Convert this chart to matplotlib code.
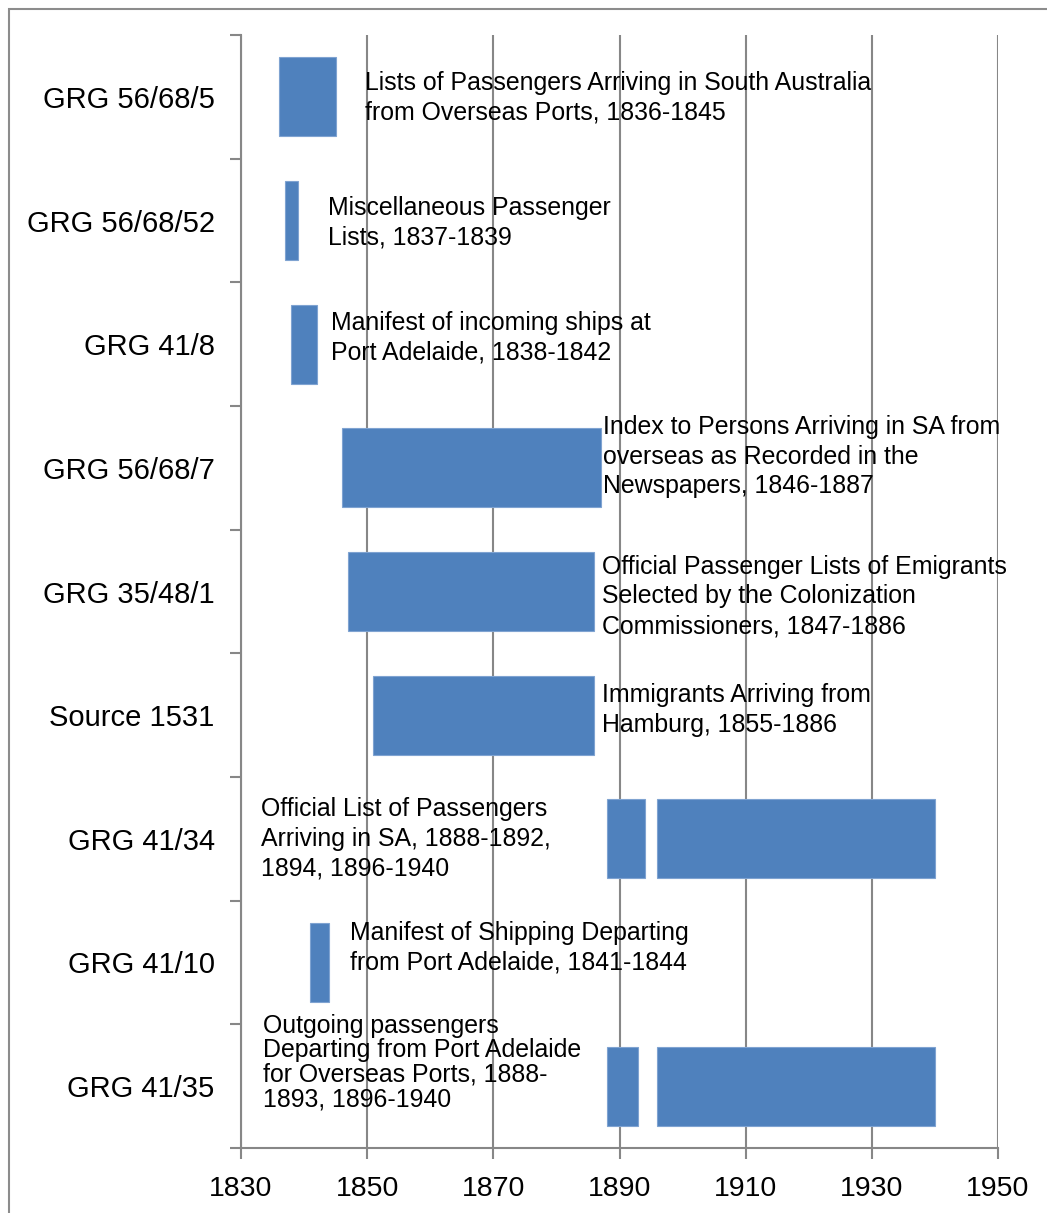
import matplotlib
matplotlib.use("Agg")
import matplotlib.pyplot as plt
from matplotlib.patches import Rectangle

# record series, top to bottom
series = ["GRG 56/68/5", "GRG 56/68/52", "GRG 41/8", "GRG 56/68/7", "GRG 35/48/1",
          "Source 1531", "GRG 41/34", "GRG 41/10", "GRG 41/35"]

# year ranges covered (start, end) per series
spans = [
    [(1836, 1845)],
    [(1837, 1839)],
    [(1838, 1842)],
    [(1846, 1887)],
    [(1847, 1886)],
    [(1851, 1886)],
    [(1888, 1894), (1896, 1940)],
    [(1841, 1844)],
    [(1888, 1893), (1896, 1940)],
]

descriptions = [
    "Lists of Passengers Arriving in South Australia\nfrom Overseas Ports, 1836-1845",
    "Miscellaneous Passenger\nLists, 1837-1839",
    "Manifest of incoming ships at\nPort Adelaide, 1838-1842",
    "Index to Persons Arriving in SA from\noverseas as Recorded in the\nNewspapers, 1846-1887",
    "Official Passenger Lists of Emigrants\nSelected by the Colonization\nCommissioners, 1847-1886",
    "Immigrants Arriving from\nHamburg, 1855-1886",
    "Official List of Passengers\nArriving in SA, 1888-1892,\n1894, 1896-1940",
    "Manifest of Shipping Departing\nfrom Port Adelaide, 1841-1844",
    "Outgoing passengers\nDeparting from Port Adelaide\nfor Overseas Ports, 1888-\n1893, 1896-1940",
]

# where each description sits (year, row) -- layout only
label_x = [1849.6, 1843.8, 1844.3, 1887.4, 1887.2, 1887.2, 1833.2, 1847.3, 1833.5]
label_y = [0.01, 1.02, 1.95, 2.91, 4.04, 4.96, 6.0, 6.88, 7.81]
label_ls = [1.3, 1.3, 1.3, 1.3, 1.3, 1.3, 1.3, 1.3, 1.03]

years = [1830, 1850, 1870, 1890, 1910, 1930, 1950]

plt.rcParams['font.family'] = ['Liberation Sans', 'DejaVu Sans']

fig = plt.figure(figsize=(10.47, 12.13), dpi=100)
ax = fig.add_axes([0.2302, 0.0536, 0.7230, 0.9175])

blue = "#4F81BD"
gray = "#878787"

for i, segs in enumerate(spans):
    for s, e in segs:
        ax.barh(i, e - s, left=s, height=0.64, color=blue, edgecolor="#7fa3d1",
                linewidth=0.8, zorder=3)

for i, txt in enumerate(descriptions):
    ax.text(label_x[i], label_y[i], txt, ha="left", va="center", fontsize=17.9,
            linespacing=label_ls[i], zorder=4)

ax.set_xlim(1830, 1950)
ax.set_ylim(len(series) - 0.5, -0.5)
ax.set_xticks(years)
ax.set_xticklabels([str(y) for y in years], fontsize=20.5)
ax.set_yticks(range(len(series)))
ax.set_yticklabels(series, fontsize=21)
ax.set_yticks([i - 0.5 for i in range(len(series) + 1)], minor=True)

ax.tick_params(axis="y", which="major", length=0, pad=19)
ax.tick_params(axis="y", which="minor", length=8, width=1.5, color=gray)
ax.tick_params(axis="x", which="major", length=8, width=1.5, color=gray, pad=12)

ax.xaxis.grid(True, color=gray, linewidth=1.5, zorder=0)
ax.set_axisbelow(True)
for side in ["top", "right"]:
    ax.spines[side].set_visible(False)
for side in ["left", "bottom"]:
    ax.spines[side].set_color(gray)
    ax.spines[side].set_linewidth(1.5)

# outer chart border (cut off at right/bottom like the original)
fig.patches.append(Rectangle((9 / 1047, -0.1), 1.2, 1 - 9 / 1213 + 0.1,
                             transform=fig.transFigure, fill=False,
                             edgecolor="#8c8c8c", linewidth=1.5))

fig.savefig("out.png", dpi=100)
